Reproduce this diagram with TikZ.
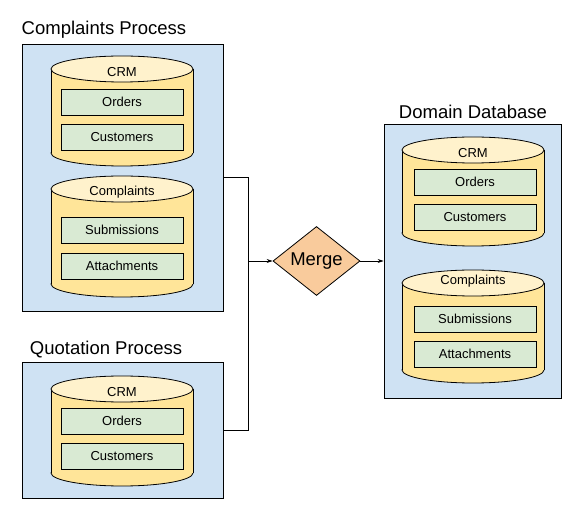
\documentclass[tikz,border=0pt]{standalone}
\usepackage{fontspec}
\setmainfont{Liberation Sans}
\usetikzlibrary{shapes.geometric,arrows.meta}

\definecolor{boxblue}{RGB}{207,226,243}
\definecolor{cylbody}{RGB}{255,229,153}
\definecolor{cyltop}{RGB}{255,242,204}
\definecolor{tablegreen}{RGB}{217,234,211}
\definecolor{mergeorange}{RGB}{249,203,156}

\begin{document}
\begin{tikzpicture}[x=1pt,y=-1pt,line width=0.8pt]
\tikzstyle{every node}+=[inner sep=0pt]
\tikzstyle{store}=[draw=black,fill=boxblue]
\tikzstyle{title}=[font=\fontsize{18.5}{22}\selectfont]
\tikzstyle{table}=[draw=black,fill=tablegreen,minimum width=122pt,minimum height=26pt,font=\fontsize{13}{15}\selectfont]
\tikzstyle{dbname}=[font=\fontsize{13}{15}\selectfont]
\tikzstyle{arr}=[-{Stealth[length=6pt,width=4pt]}]
\useasboundingbox (0,0) rectangle (576,510);
% source stores
\node [store,minimum width=201pt,minimum height=267pt] (cp) at (122.5,177.5) {};
\node [title] (cptitle) at (104,30) {Complaints Process};
\node [store,minimum width=201pt,minimum height=136pt] (qp) at (122.5,430) {};
\node [title] (qptitle) at (106,350) {Quotation Process};
% target store
\node [store,minimum width=177pt,minimum height=274pt] (dd) at (472.5,261) {};
\node [title] (ddtitle) at (473,112) {Domain Database};
% cylinders: bottom ellipse, body, sides, top ellipse
\draw [black,fill=cylbody] (122,153) ellipse (71 and 13);
\fill [cylbody] (51,69) rectangle (193,153);
\draw [black] (51,69) -- (51,153) (193,69) -- (193,153);
\draw [black,fill=cyltop] (122,69) ellipse (71 and 13);
\draw [black,fill=cylbody] (122,284) ellipse (71 and 13);
\fill [cylbody] (51,189) rectangle (193,284);
\draw [black] (51,189) -- (51,284) (193,189) -- (193,284);
\draw [black,fill=cyltop] (122,189) ellipse (71 and 13);
\draw [black,fill=cylbody] (122,473) ellipse (71 and 13);
\fill [cylbody] (51,389) rectangle (193,473);
\draw [black] (51,389) -- (51,473) (193,389) -- (193,473);
\draw [black,fill=cyltop] (122,389) ellipse (71 and 13);
\draw [black,fill=cylbody] (473,233) ellipse (71 and 13);
\fill [cylbody] (402,150) rectangle (544,233);
\draw [black] (402,150) -- (402,233) (544,150) -- (544,233);
\draw [black,fill=cyltop] (473,150) ellipse (71 and 13);
\draw [black,fill=cylbody] (473,370) ellipse (71 and 13);
\fill [cylbody] (402,283) rectangle (544,370);
\draw [black] (402,283) -- (402,370) (544,283) -- (544,370);
\draw [black,fill=cyltop] (473,283) ellipse (71 and 13);
% database names and tables
\node [dbname] (crma) at (122,72) {CRM};
\node [table] (ordersa) at (122,102) {Orders};
\node [table] (customersa) at (122,137) {Customers};
\node [dbname] (complaintsa) at (122,192) {Complaints};
\node [table] (submissionsa) at (122,230) {Submissions};
\node [table] (attachmentsa) at (122,266) {Attachments};
\node [dbname] (crmb) at (122,392) {CRM};
\node [table] (ordersb) at (122,421) {Orders};
\node [table] (customersb) at (122,456.5) {Customers};
\node [dbname] (crmc) at (473,153) {CRM};
\node [table] (ordersc) at (475,182) {Orders};
\node [table] (customersc) at (475,217) {Customers};
\node [dbname] (complaintsc) at (473,281) {Complaints};
\node [table] (submissionsc) at (475,319) {Submissions};
\node [table] (attachmentsc) at (475,354) {Attachments};
% merge step
\node [diamond,draw=black,fill=mergeorange,minimum width=87pt,minimum height=58pt,title] (merge) at (316.5,261) {Merge};
\coordinate (join) at (248,261);
\draw [black] (cp.east) -| (join);
\draw [black] (qp.east) -| (join);
\draw [black,arr] (join) -- (merge.west);
\draw [black,arr] (merge.east) -- (dd.west);
\end{tikzpicture}
\end{document}
